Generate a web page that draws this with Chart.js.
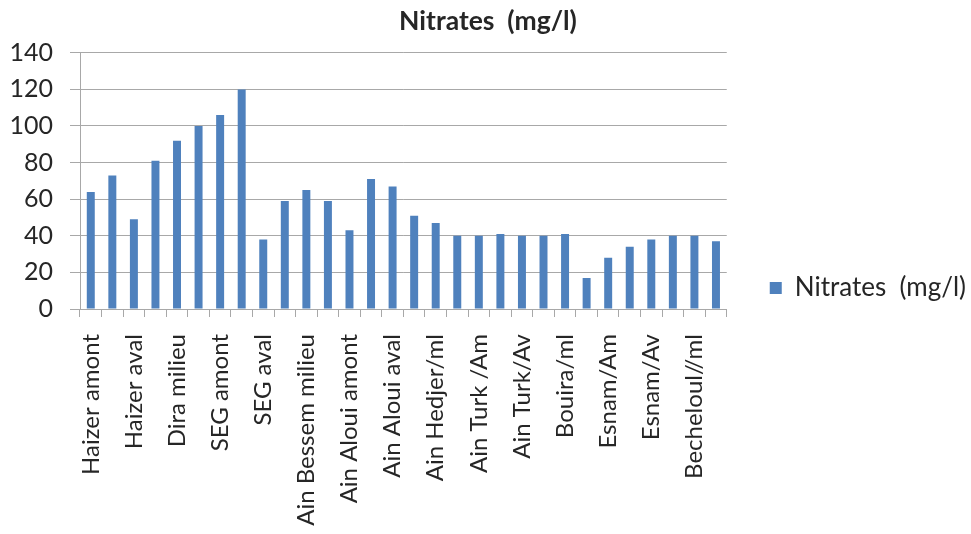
<!DOCTYPE html>
<html>
<head>
<meta charset="utf-8">
<script src="https://cdn.jsdelivr.net/npm/chart.js@4/dist/chart.umd.min.js"></script>
<style>
  html, body { margin: 0; padding: 0; background: #fff; }
  #wrap { width: 971px; height: 534px; }
</style>
</head>
<body>
<div id="wrap"><canvas id="c" width="971" height="534"></canvas></div>
<script>
// Sampling stations along the wadi (every other station name is printed on the axis)
const stations = [
  'Haizer amont', 'Haizer milieu', 'Haizer aval',
  'Dira amont', 'Dira milieu', 'Dira aval',
  'SEG amont', 'SEG milieu', 'SEG aval',
  'Ain Bessem amont', 'Ain Bessem milieu', 'Ain Bessem aval',
  'Ain Aloui amont', 'Ain Aloui milieu', 'Ain Aloui aval',
  'Ain Hedjer/Am', 'Ain Hedjer/ml', 'Ain Hedjer/Av',
  'Ain Turk /Am', 'Ain Turk/ml', 'Ain Turk/Av',
  'Bouira/Am', 'Bouira/ml', 'Bouira/Av',
  'Esnam/Am', 'Esnam/ml', 'Esnam/Av',
  'Becheloul/Am', 'Becheloul//ml', 'Becheloul/Av'
];

// Nitrate concentration per station, mg/l
const nitrates = [
  64, 73, 49,
  81, 92, 100,
  106, 120, 38,
  59, 65, 59,
  43, 71, 67,
  51, 47, 40,
  40, 41, 40,
  40, 41, 17,
  28, 34, 38,
  40, 40, 37
];

const seriesName = 'Nitrates  (mg/l)';
const yTicks = [0, 20, 40, 60, 80, 100, 120, 140];

const FONT = 'Lato, "Open Sans", sans-serif';
const TEXT = '#262626';
const GRID = '#a8a8a8';

new Chart(document.getElementById('c'), {
  type: 'bar',
  data: {
    labels: stations,
    datasets: [{
      label: seriesName,
      data: nitrates,
      backgroundColor: '#4f81bd',
      borderWidth: 0,
      barPercentage: 0.37,
      categoryPercentage: 1.0
    }]
  },
  options: {
    responsive: false,
    animation: false,
    layout: { padding: { left: 0, right: -5, top: 0, bottom: 0 } },
    plugins: {
      title: {
        display: true,
        text: seriesName,
        color: TEXT,
        font: { family: FONT, size: 26.5, weight: 'bold' },
        padding: { top: 6, bottom: 15 }
      },
      legend: {
        display: true,
        position: 'right',
        align: 'center',
        maxWidth: 300,
        // empty legend title used only as a spacer to lower the entry
        title: { display: true, text: '', font: { size: 1 }, padding: { top: 41, bottom: 0 } },
        labels: {
          color: TEXT,
          font: { family: FONT, size: 26 },
          boxWidth: 12,
          boxHeight: 12,
          padding: 43
        }
      },
      tooltip: { enabled: false }
    },
    scales: {
      x: {
        offset: true,
        grid: {
          offset: true,
          drawOnChartArea: false,
          drawTicks: true,
          tickLength: 8,
          color: GRID
        },
        border: { display: true, color: GRID, width: 1 },
        ticks: {
          autoSkip: false,
          minRotation: 90,
          maxRotation: 90,
          padding: 17,
          color: TEXT,
          font: { family: FONT, size: 24 },
          callback: (v, i) => (i % 2 === 0 ? stations[i] : '')
        },
        afterFit: (scale) => { scale.height = 225; }
      },
      y: {
        min: 0,
        max: 140,
        afterBuildTicks: (scale) => { scale.ticks = yTicks.map(v => ({ value: v })); },
        grid: {
          color: GRID,
          lineWidth: 1,
          drawTicks: true,
          tickLength: 10
        },
        border: { display: true, color: GRID, width: 1 },
        ticks: {
          padding: 17,
          color: TEXT,
          font: { family: FONT, size: 25 }
        },
        afterFit: (scale) => { scale.width = 80; }
      }
    }
  }
});
</script>
</body>
</html>
